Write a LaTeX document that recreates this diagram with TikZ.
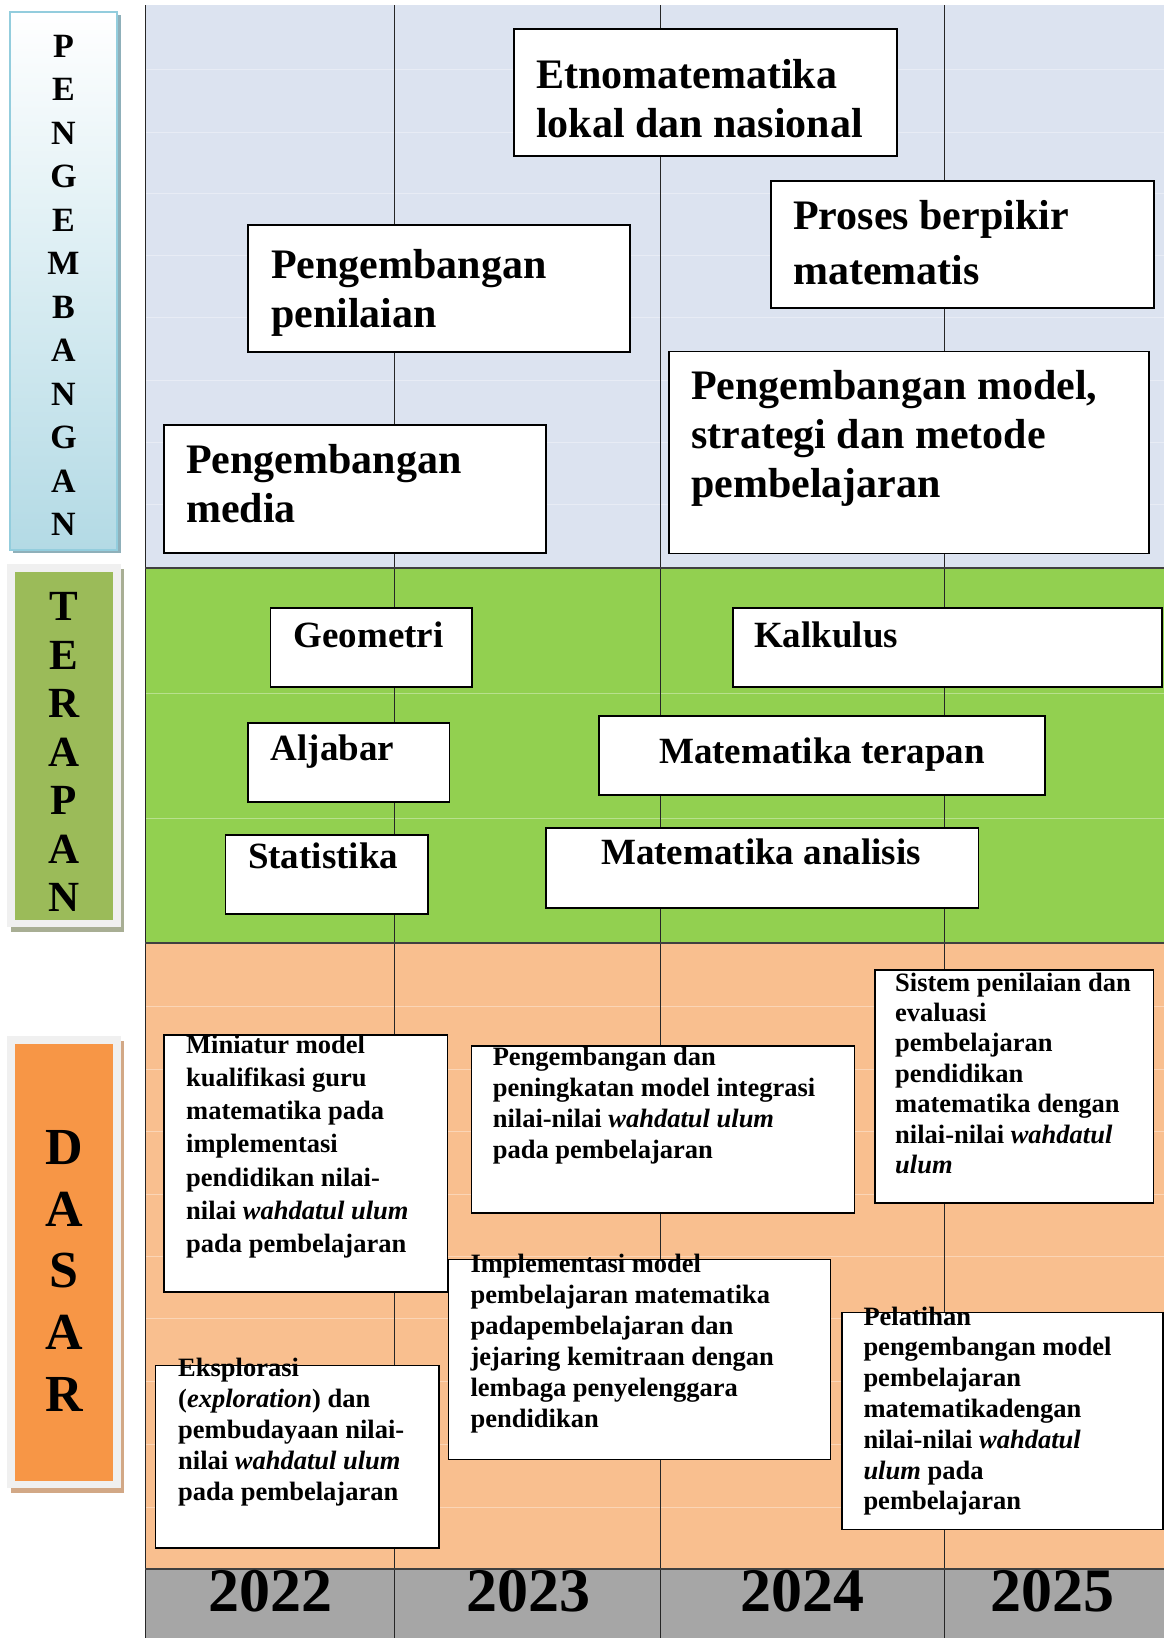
\documentclass[tikz,border=0pt]{standalone}
\usepackage{fontspec}
\setmainfont{Liberation Serif}
\usetikzlibrary{fit}
\definecolor{bluebg}{HTML}{DCE3F0}
\definecolor{greenbg}{HTML}{92D050}
\definecolor{orangebg}{HTML}{F9BF8F}
\definecolor{graybg}{HTML}{A6A6A6}
\definecolor{pengbot}{HTML}{B3DAE5}
\definecolor{pengborder}{HTML}{93CDDD}
\definecolor{pengshadow}{HTML}{8FB0BA}
\definecolor{terfill}{HTML}{9BBB59}
\definecolor{dasfill}{HTML}{F79646}
\definecolor{framegray}{HTML}{F0F0F0}
\definecolor{tershadow}{HTML}{A8AE94}
\definecolor{dasshadow}{HTML}{D2A886}
\definecolor{sepline}{HTML}{404040}
\begin{document}
\begin{tikzpicture}[x=1pt,y=-1pt,
  box/.style={draw=black, line width=1.6pt, fill=white, inner sep=0pt},
  txt/.style={anchor=base west, inner sep=0pt},
  bigtxt/.style={txt, font=\fontsize{42}{49}\selectfont\bfseries},
  midtxt/.style={inner sep=0pt, font=\fontsize{37}{44}\selectfont\bfseries},
  smalltxt/.style={txt, font=\fontsize{26.5}{31}\selectfont\bfseries},
  yeartxt/.style={anchor=base, inner sep=0pt, font=\fontsize{62}{70}\selectfont\bfseries},
  faint/.style={white, opacity=0.35, line width=0.8pt},
  gridline/.style={black!85, line width=1.1pt},
  sep/.style={sepline, line width=2pt}]
\useasboundingbox (0,0) rectangle (1164,1638);
\fill[white] (0,0) rectangle (1164,1638);

% region backgrounds
\fill[bluebg] (145,5) rectangle (1164,568);
\fill[greenbg] (145,568) rectangle (1164,943);
\fill[orangebg] (145,943) rectangle (1164,1569);
\fill[graybg] (145,1569) rectangle (1164,1638);

% faint row lines
\foreach \yy in {69.5,132,193.5,255,317,380,442,504}
  \draw[faint] (145,\yy) -- (1164,\yy);
\foreach \yy in {693,818}
  \draw[faint] (145,\yy) -- (1164,\yy);
\foreach \yy in {1006,1069,1131,1194,1256,1318,1381,1444,1507}
  \draw[faint] (145,\yy) -- (1164,\yy);

% vertical year lines
\foreach \xx in {394.7,660.6,944.7}
  \draw[gridline] (\xx,5) -- (\xx,1638);
\draw[black!85, line width=1pt] (145,5) -- (145,1638);

% separators
\draw[sep] (145,568) -- (1164,568);
\draw[sep] (145,943) -- (1164,943);
\draw[sep] (145,1569) -- (1164,1569);

% ---------- left labels ----------
\fill[pengshadow] (13,15) rectangle (120.5,553);
\node[fit={(10,12) (117,550)}, inner sep=0pt, top color=white, bottom color=pengbot, draw=pengborder, line width=2.5pt] (pengbox) {};
\node[anchor=base, inner sep=0pt, font=\fontsize{34}{43.5}\selectfont\bfseries] (pengtext) at (63.5,57)
  {\parbox[t]{60pt}{\centering P\\E\\N\\G\\E\\M\\B\\A\\N\\G\\A\\N}};

\fill[tershadow] (11,569) rectangle (124.2,932);
\node[fit={(7.3,564) (120.7,927)}, inner sep=0pt, fill=framegray] (terframe) {};
\node[fit={(15,572) (113.3,920)}, inner sep=0pt, fill=terfill] (terbox) {};
\node[anchor=base, inner sep=0pt, font=\fontsize{43}{48.5}\selectfont\bfseries] (tertext) at (64,620.7)
  {\parbox[t]{60pt}{\centering T\\E\\R\\A\\P\\A\\N}};

\fill[dasshadow] (11,1041) rectangle (124.2,1493);
\node[fit={(7.3,1035.8) (120.7,1488)}, inner sep=0pt, fill=framegray] (dasframe) {};
\node[fit={(15,1044) (113.3,1481)}, inner sep=0pt, fill=dasfill] (dasbox) {};
\node[anchor=base, inner sep=0pt, font=\fontsize{52}{61.7}\selectfont\bfseries] (dastext) at (64,1164.5)
  {\parbox[t]{70pt}{\centering D\\A\\S\\A\\R}};

% ---------- PENGEMBANGAN boxes ----------
\node[box, fit={(514,29) (897,156)}] (etno) {};
\node[bigtxt] (etnot) at (536,88) {\parbox[t]{500pt}{\raggedright Etnomatematika\\lokal dan nasional}};

\node[box, fit={(248,225) (630,352)}] (penilaian) {};
\node[bigtxt] (penilaiant) at (271,278) {\parbox[t]{500pt}{\raggedright Pengembangan\\penilaian}};

\node[box, fit={(771,181) (1154,308)}] (proses) {};
\node[txt, font=\fontsize{42}{55}\selectfont\bfseries] (prosest) at (793,229) {\parbox[t]{500pt}{\raggedright Proses berpikir\\matematis}};

\node[box, fit={(164,425) (546,553)}] (media) {};
\node[bigtxt] (mediat) at (186,473.5) {\parbox[t]{500pt}{\raggedright Pengembangan\\media}};

\node[box, fit={(669,351.5) (1149,553.5)}] (model) {};
\node[bigtxt] (modelt) at (691,399.6) {\parbox[t]{500pt}{\raggedright Pengembangan model,\\strategi dan metode\\pembelajaran}};

% ---------- TERAPAN boxes ----------
\node[box, fit={(270.6,607.7) (472,687)}] (geometri) {};
\node[midtxt, anchor=base west] (geometrit) at (293.5,647) {Geometri};

\node[box, fit={(733,607.7) (1162,687)}] (kalkulus) {};
\node[midtxt, anchor=base west] (kalkulust) at (754,647) {Kalkulus};

\node[box, fit={(248,723) (449.6,802)}] (aljabar) {};
\node[midtxt, anchor=base west] (aljabart) at (270.6,760) {Aljabar};

\node[box, fit={(599,716) (1045,795)}] (terapan) {};
\node[midtxt, anchor=base] (terapant) at (822,763) {Matematika terapan};

\node[box, fit={(225.6,835) (428,914)}] (statistika) {};
\node[midtxt, anchor=base west] (statistikat) at (247.8,868) {Statistika};

\node[box, fit={(546,828) (978.6,907.7)}] (analisis) {};
\node[midtxt, anchor=base] (analisist) at (761,864) {Matematika analisis};

% ---------- DASAR boxes ----------
\node[box, fit={(164,1034.7) (447.6,1292)}] (miniatur) {};
\node[txt, font=\fontsize{26.5}{33.3}\selectfont\bfseries] (miniaturt) at (186,1053)
  {\parbox[t]{500pt}{\raggedright Miniatur model\\kualifikasi guru\\matematika pada\\implementasi\\pendidikan nilai-\\nilai \textit{wahdatul ulum}\\pada pembelajaran}};

\node[box, fit={(471.5,1046) (854.4,1212.7)}] (integrasi) {};
\node[smalltxt] (integrasit) at (492.6,1065)
  {\parbox[t]{500pt}{\raggedright Pengembangan dan\\peningkatan model integrasi\\nilai-nilai \textit{wahdatul ulum}\\pada pembelajaran}};

\node[box, fit={(874.7,970) (1153.3,1203)}] (sistem) {};
\node[txt, font=\fontsize{26.5}{30.4}\selectfont\bfseries] (sistemt) at (895,991)
  {\parbox[t]{500pt}{\raggedright Sistem penilaian dan\\evaluasi\\pembelajaran\\pendidikan\\matematika dengan\\nilai-nilai \textit{wahdatul}\\\textit{ulum}}};

\node[box, fit={(448.5,1259.3) (830.6,1459.3)}] (implementasi) {};
\node[smalltxt] (implementasit) at (470.4,1272)
  {\parbox[t]{500pt}{\raggedright Implementasi model\\pembelajaran matematika\\padapembelajaran dan\\jejaring kemitraan dengan\\lembaga penyelenggara\\pendidikan}};

\node[box, fit={(155.6,1365.3) (439,1547.7)}] (eksplorasi) {};
\node[smalltxt] (eksplorasit) at (178,1376.5)
  {\parbox[t]{500pt}{\raggedright Eksplorasi\\(\textit{exploration}) dan\\pembudayaan nilai-\\nilai \textit{wahdatul ulum}\\pada pembelajaran}};

\node[box, fit={(842,1312.3) (1162.7,1529.3)}] (pelatihan) {};
\node[txt, font=\fontsize{26.5}{30.8}\selectfont\bfseries] (pelatihant) at (863.3,1325)
  {\parbox[t]{500pt}{\raggedright Pelatihan\\pengembangan model\\pembelajaran\\matematikadengan\\nilai-nilai \textit{wahdatul}\\\textit{ulum} pada\\pembelajaran}};

% ---------- years ----------
\node[yeartxt] (y2022) at (270.6,1611.7) {2022};
\node[yeartxt] (y2023) at (528.7,1611.7) {2023};
\node[yeartxt] (y2024) at (802,1611.7) {2024};
\node[yeartxt] (y2025) at (1052,1611.7) {2025};
\end{tikzpicture}
\end{document}
